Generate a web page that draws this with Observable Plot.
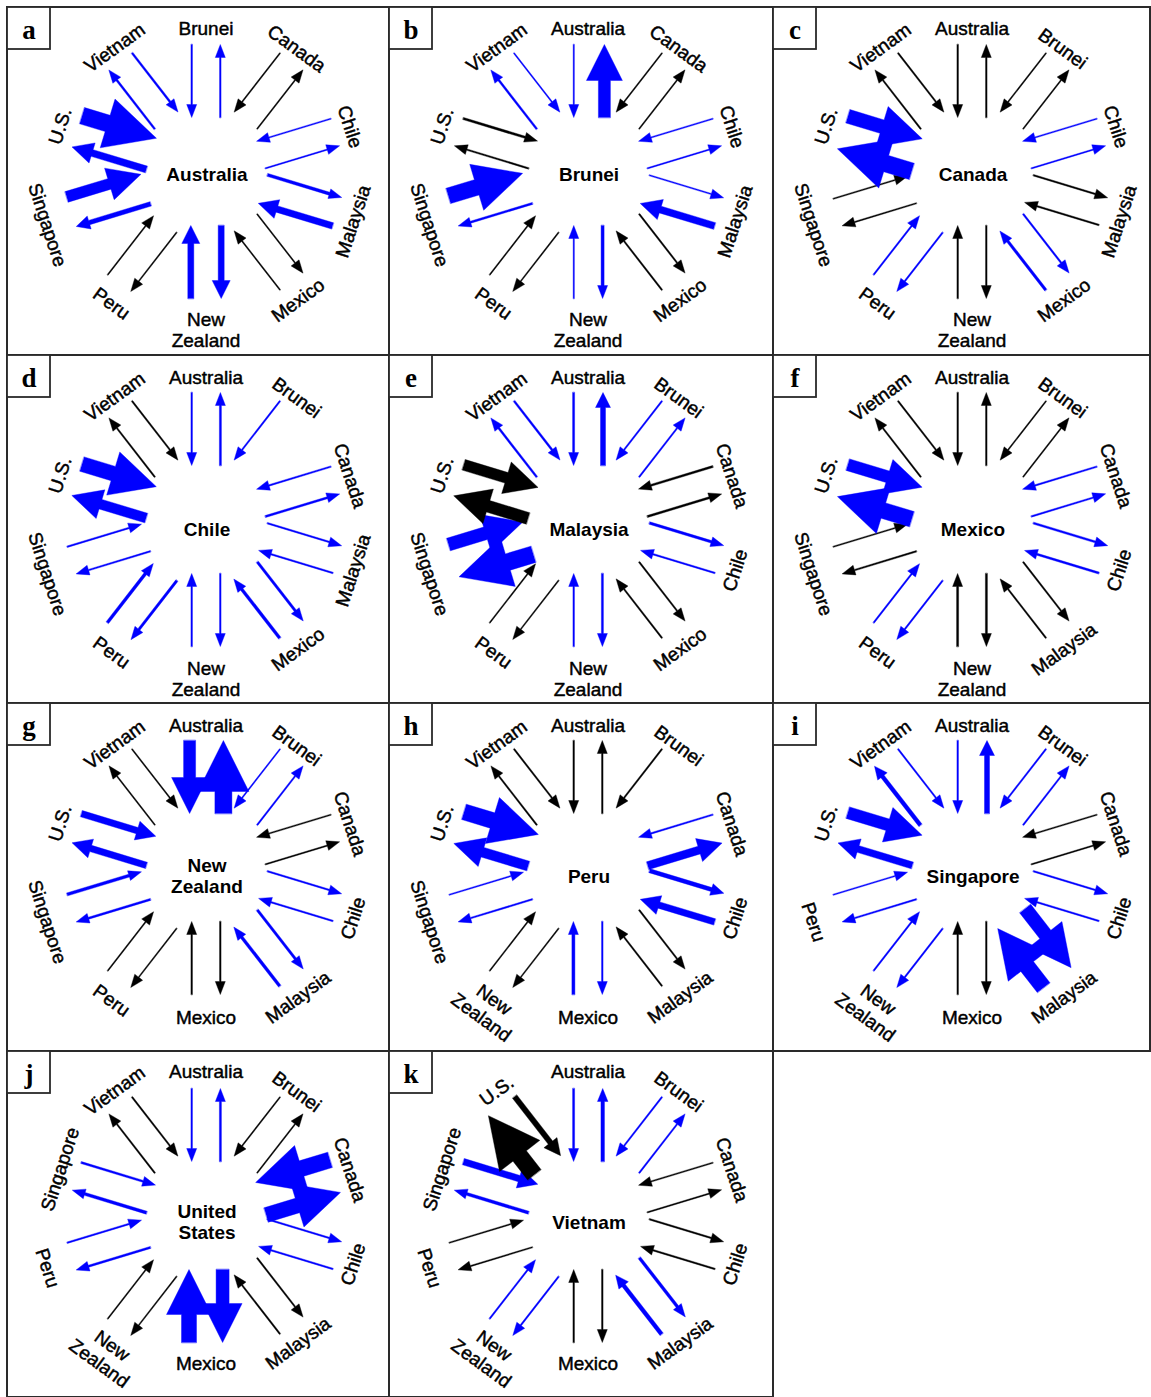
<!DOCTYPE html>
<html><head><meta charset="utf-8">
<script src="https://cdn.jsdelivr.net/npm/d3@7"></script>
<script src="https://cdn.jsdelivr.net/npm/@observablehq/plot@0.6"></script>
<style>html,body{margin:0;padding:0;background:#fff}#chart svg{display:block}</style>
</head><body><div id="chart"></div>
<script>
// ---------- DATA ----------
const countries = ["Australia","Brunei","Canada","Chile","Malaysia","Mexico","New Zealand","Peru","Singapore","United States","Vietnam"];
const panelLetters = ["a","b","c","d","e","f","g","h","i","j","k"];
// Partners of each centre country, clockwise from the top, are the other ten countries in alphabetical order.
// Flow magnitudes (arrow widths) from partner -> centre (inflow) and centre -> partner (outflow).
const inflowAustralia   = [1.5, 1.2, 1.2, 6.5, 1.2, 6, 1.2, 11, 17, 2];
const outflowAustralia  = [1.5, 1.2, 1.2, 3, 1.2, 6, 1.2, 4.5, 7, 2];
const inflowBrunei      = [1.2, 1.2, 1.2, 7, 1.5, 1.2, 1.2, 16, 2.2, 1.2];
const outflowBrunei     = [12, 1.2, 1.2, 1.2, 1.5, 3, 1.2, 2, 1.5, 2];
const inflowCanada      = [1.5, 1.2, 1.2, 1.5, 2.7, 1.5, 1.5, 1.2, 14, 1.5];
const outflowCanada     = [1.5, 1.2, 1.2, 1.5, 1.7, 1.5, 1.5, 1.2, 17, 1.5];
const inflowChile       = [1.5, 1.5, 1.5, 1.5, 3, 1.5, 3, 1.5, 15, 1.5];
const outflowChile      = [2, 0, 2, 1.5, 2.5, 1.5, 2.5, 1.5, 10, 1.5];
const inflowMalaysia    = [2, 1.5, 2, 1.5, 1.5, 1.5, 1.2, 13, 11, 2];
const outflowMalaysia   = [5, 1.5, 2, 2.5, 1.5, 2, 1.2, 17, 12, 2];
const inflowMexico      = [1.5, 1.2, 1.5, 2, 1.5, 2, 1.5, 1.2, 12, 1.5];
const outflowMexico     = [1.5, 1.2, 1.5, 2, 1.5, 2, 1.5, 1.5, 16, 1.5];
const inflowNewZealand  = [12, 1.2, 1.2, 1.5, 3, 1.5, 1.2, 3, 6.5, 1.2];
const outflowNewZealand = [17, 1.5, 1.2, 1.5, 2.5, 1.5, 1.2, 2, 6.5, 1.2];
const inflowPeru        = [1.5, 1.5, 1.5, 6.5, 1.5, 3, 1.2, 1.2, 16, 1.5];
const outflowPeru       = [1.5, 0, 8, 4, 1.5, 1.5, 1.2, 1.5, 10, 1.5];
const inflowSingapore   = [1.5, 1.5, 1.2, 1.5, 16, 1.5, 1.5, 1.2, 12, 1.5];
const outflowSingapore  = [5, 1.5, 1.2, 1.5, 14, 1.5, 1.5, 1.5, 7, 4];
const inflowUS          = [1.5, 1.2, 16, 1.5, 1.5, 15, 1.2, 1.5, 2, 1.5];
const outflowUS         = [2, 1.2, 15, 1.5, 1.5, 13, 1.2, 2, 3, 1.5];
const inflowVietnam     = [2, 1.5, 1.2, 1.5, 4, 1.5, 1.5, 1.2, 6.5, 5.5];
const outflowVietnam    = [3.5, 1.5, 1.2, 1.5, 3, 1.5, 1.5, 1.2, 3, 17];
// Agreement status of each pair as shown in the panel (1 = blue, 0 = black)
const agreeAustralia  = [1,0,1,1,0,1,0,1,1,1];
const agreeBrunei     = [1,0,1,1,0,1,0,1,0,1];
const agreeCanada     = [0,0,1,0,1,0,1,0,1,0];
const agreeChile      = [1,1,1,1,1,1,1,1,1,0];
const agreeMalaysia   = [1,1,0,1,0,1,0,1,0,1];
const agreeMexico     = [0,0,1,1,0,0,1,0,1,0];
const agreeNewZealand = [1,1,0,1,1,0,0,1,1,0];
const agreePeru       = [0,0,1,1,0,1,0,1,1,0];
const agreeSingapore  = [1,1,0,1,1,0,1,1,1,1];
const agreeUS         = [1,0,1,1,0,1,0,1,1,0];
const agreeVietnam    = [1,1,0,0,1,0,1,0,1,0];

const inflows  = [inflowAustralia, inflowBrunei, inflowCanada, inflowChile, inflowMalaysia, inflowMexico, inflowNewZealand, inflowPeru, inflowSingapore, inflowUS, inflowVietnam];
const outflows = [outflowAustralia, outflowBrunei, outflowCanada, outflowChile, outflowMalaysia, outflowMexico, outflowNewZealand, outflowPeru, outflowSingapore, outflowUS, outflowVietnam];
const agrees   = [agreeAustralia, agreeBrunei, agreeCanada, agreeChile, agreeMalaysia, agreeMexico, agreeNewZealand, agreePeru, agreeSingapore, agreeUS, agreeVietnam];
const partnerLabel = {"United States": "U.S.", "New Zealand": "New\nZealand"};
const centreLabel = {"United States": "United\nStates", "New Zealand": "New\nZealand"};

// ---------- LAYOUT ----------
const W = 1151, H = 1397;
const colX = [7, 389, 773, 1150];
const rowY = [7, 355, 703, 1051, 1397];
const CX = 198.5, CY = 164;
const centreDy = [2, 9, 8, 6];
const ringDy = [2, 3, 3, 1];
const R_IN = 54, R_OUT = 127, XSTRETCH = 1.07;
const slotBoost = [0, 9, 0, 2, 9, 0, 11, 5, 0, 9];
const labelR = [146, 155, 152, 154, 156, 146, 160, 166, 154, 156];
const inSide = [-1,-1,-1,1,1,1,1,1,1,1];

function arrowPolygon(x0, y0, x1, y1, w) {
  const len = Math.hypot(x1 - x0, y1 - y0);
  const ux = (x1 - x0) / len, uy = (y1 - y0) / len, nx = -uy, ny = ux;
  const hw = Math.max(10, 3 * w) / 2;
  const hl = Math.min(len * 0.75, Math.max(13, 3 * w));
  const bx = x1 - ux * hl, by = y1 - uy * hl, sw = w / 2;
  return [
    [x0 + nx * sw, y0 + ny * sw], [bx + nx * sw, by + ny * sw], [bx + nx * hw, by + ny * hw],
    [x1, y1],
    [bx - nx * hw, by - ny * hw], [bx - nx * sw, by - ny * sw], [x0 - nx * sw, y0 - ny * sw]
  ];
}

const arrowPts = [], labelRows = [], centreRows = [], frameRows = [], boxRows = [], letterRows = [];
countries.forEach((c, p) => {
  const col = p % 3, row = Math.floor(p / 3);
  const ox = colX[col], oy = rowY[row];
  frameRows.push({x1: ox, x2: colX[col + 1], y1: oy, y2: rowY[row + 1]});
  boxRows.push({x1: ox, x2: ox + 43, y1: oy, y2: oy + 42});
  letterRows.push({x: ox + 21.5, y: oy + 23, text: panelLetters[p]});
  const cx = ox + CX, cy = oy + CY;
  const ly = cy + ringDy[row];
  centreRows.push({x: cx + 1, y: cy + centreDy[row], text: centreLabel[c] || c});
  const partners = countries.filter(d => d !== c);
  partners.forEach((q, k) => {
    const th = k * 36 * Math.PI / 180;
    const rx = Math.sin(th), ry = -Math.cos(th), tx = Math.cos(th), ty = Math.sin(th);
    const rin = R_IN + slotBoost[k], rout = R_OUT + slotBoost[k];
    const pairs = [["in", inflows[p][k], inSide[k]], ["out", outflows[p][k], -inSide[k]]];
    pairs.forEach(([dir, w, s]) => {
      if (!w) return;
      const d = s * (14 + 0.2 * w);
      const ix = cx + rx * rin * XSTRETCH + d * tx, iy = cy + ry * rin + d * ty;
      const ex = cx + rx * rout * XSTRETCH + d * tx, ey = cy + ry * rout + d * ty;
      const pts = dir === "in" ? arrowPolygon(ex, ey, ix, iy, w) : arrowPolygon(ix, iy, ex, ey, w);
      const id = `${c}-${q}-${dir}`;
      pts.forEach(([x, y]) => arrowPts.push({id, x, y, agree: agrees[p][k]}));
    });
    const txt = partnerLabel[q] || q;
    const two = txt.includes("\n");
    const R = labelR[k] + (two ? 10 : 0);
    const deg = k * 36;
    const rot = deg <= 90 ? deg : deg < 270 ? deg - 180 : deg - 360;
    labelRows.push({x: cx + rx * R, y: ly + ry * R, text: txt, rotate: rot});
  });
});

const font = "'Liberation Sans', Arial, Helvetica, sans-serif";
const chart = Plot.plot({
  width: W, height: H, margin: 0,
  x: {domain: [0, W], range: [0, W], axis: null},
  y: {domain: [0, H], range: [0, H], axis: null},
  color: {type: "ordinal", domain: [0, 1], range: ["#000000", "#0000ff"]},
  marks: [
    Plot.rect(frameRows, {x1: "x1", x2: "x2", y1: "y1", y2: "y2", fill: "none", stroke: "#2a2a2a", strokeWidth: 2}),
    Plot.line(arrowPts, {x: "x", y: "y", z: "id", fill: "agree", stroke: "agree", strokeWidth: 0.4, curve: "linear-closed"}),
    Plot.text(labelRows, {x: "x", y: "y", text: "text", rotate: "rotate", fontSize: 19, fontFamily: font, lineHeight: 1.15, fill: "#000", stroke: "#000", strokeWidth: 0.45}),
    Plot.text(centreRows, {x: "x", y: "y", text: "text", fontSize: 19, fontWeight: "bold", fontFamily: font, lineHeight: 1.15, fill: "#000"}),
    Plot.rect(boxRows, {x1: "x1", x2: "x2", y1: "y1", y2: "y2", fill: "#fff", stroke: "#2a2a2a", strokeWidth: 1.8}),
    Plot.text(letterRows, {x: "x", y: "y", text: "text", fontSize: 27, fontWeight: "bold", fontFamily: "'Liberation Serif', 'Times New Roman', serif", fill: "#000"})
  ]
});
document.getElementById("chart").appendChild(chart);
</script>
</body></html>
